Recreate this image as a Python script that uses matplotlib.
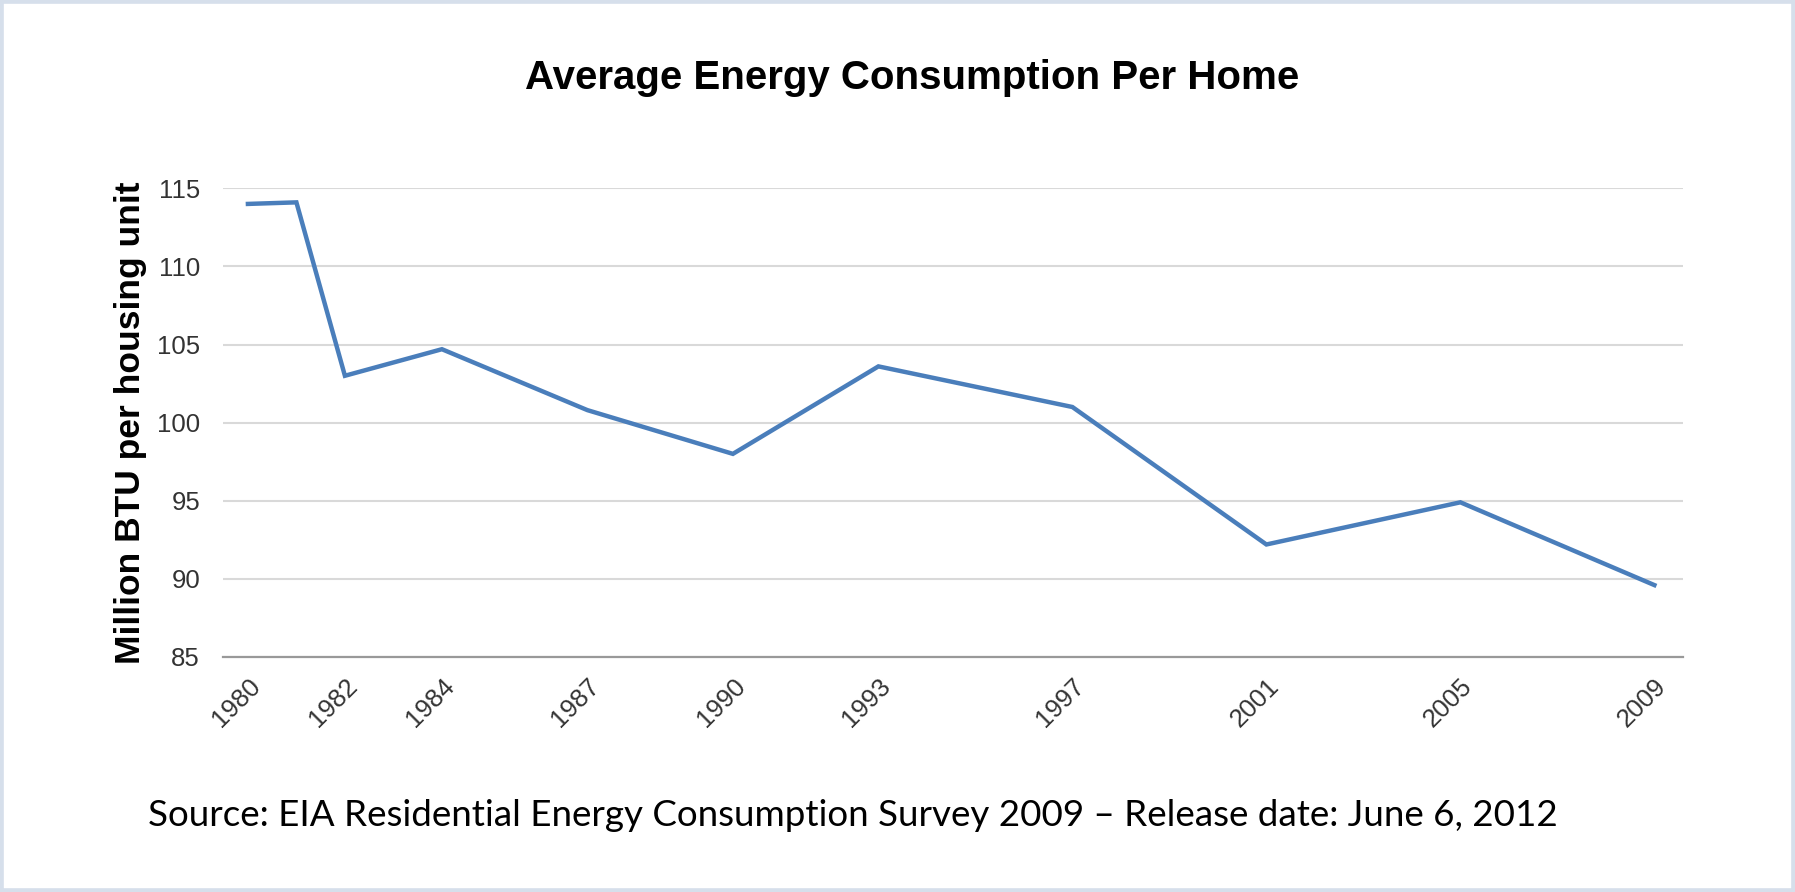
import numpy as np
import matplotlib.pyplot as plt
from matplotlib.patches import Rectangle

# average energy use per home (million BTU per housing unit)
years = [1980, 1981, 1982, 1984, 1987, 1990, 1993, 1997, 2001, 2005, 2009]
btu = [114.0, 114.1, 103.0, 104.7, 100.8, 98.0, 103.6, 101.0, 92.2, 94.9, 89.6]
tick_years = [1980, 1982, 1984, 1987, 1990, 1993, 1997, 2001, 2005, 2009]
y_ticks = [85, 90, 95, 100, 105, 110, 115]

plt.rcParams['font.family'] = ['Liberation Sans', 'DejaVu Sans']

fig = plt.figure(figsize=(17.95, 8.92), dpi=100)
fig.patch.set_facecolor('white')
ax = fig.add_axes([0.1242, 0.2635, 0.8134, 0.5254])

ax.plot(years, btu, color='#4a7ebb', lw=3.2, solid_joinstyle='miter')

ax.set_xlim(1979.485, 2009.59)
ax.set_ylim(85, 115)
ax.set_yticks(y_ticks)
ax.set_xticks(tick_years)
ax.set_xticklabels([str(y) for y in tick_years], rotation=45, ha='right',
                   va='top', rotation_mode='anchor')
ax.tick_params(axis='both', length=0, labelsize=18.5, labelcolor='#333333')
ax.tick_params(axis='y', pad=16.5)
ax.tick_params(axis='x', pad=12)
ax.grid(axis='y', color='#d9d9d9', lw=1.5)
ax.set_axisbelow(True)
for s in ['top', 'right', 'left']:
    ax.spines[s].set_visible(False)
ax.spines['bottom'].set_color('#999999')
ax.spines['bottom'].set_linewidth(1.6)

fig.text(0.0725, 0.5264, 'Million BTU per housing unit', rotation=90,
         ha='center', va='center', fontsize=25.5, fontweight='bold')
fig.text(0.508, 0.913, 'Average Energy Consumption Per Home',
         ha='center', va='center', fontsize=29, fontweight='bold')
fig.text(0.0825, 0.086, 'Source: EIA Residential Energy Consumption Survey 2009 \u2013 Release date: June 6, 2012',
         ha='left', va='center', fontsize=26.5, family=['Lato', 'DejaVu Sans'])

fig.patches.append(Rectangle((0, 0), 1, 1, transform=fig.transFigure, fill=False,
                             edgecolor='#d6dfeb', lw=5.5))

fig.savefig('out.png', dpi=100)
